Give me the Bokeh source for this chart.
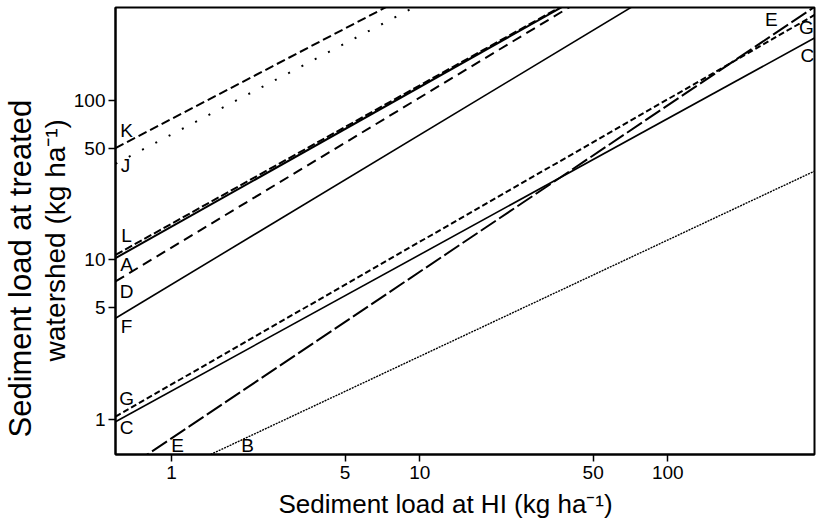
import numpy as np
from bokeh.plotting import figure
from bokeh.models import Range1d, FixedTicker, PrintfTickFormatter, Title, ColumnDataSource
from bokeh.core.properties import value
from bokeh.embed import file_html
from bokeh.resources import INLINE

# Power-law relations: treated = a * HI ** b
line_names = ["K", "J", "L", "A", "D", "F", "G", "C", "E", "B"]
coef_a = [76.7, 61.3, 16.9, 16.2, 11.97, 7.03, 1.66, 1.51, 0.762, 0.463]
coef_b = [0.811, 0.816, 0.867, 0.875, 0.940, 0.938, 0.894, 0.854, 1.044, 0.730]

# axis extent and ticks
x_limits = [0.594, 390.0]
y_limits = [0.603, 383.0]
x_tick_values = [1, 5, 10, 50, 100]
y_tick_values = [1, 5, 10, 50, 100]

# line letters drawn on the plot
label_text = ["K", "J", "L", "A", "D", "F", "G", "C", "E", "B", "E", "G", "C"]
label_x = [0.658, 0.652, 0.658, 0.658, 0.658, 0.658, 0.658, 0.658, 1.057, 2.026, 261.0, 362.0, 365.0]
label_y = [64.9, 39.1, 14.24, 9.37, 6.35, 3.83, 1.354, 0.891, 0.687, 0.687, 322.0, 287.0, 191.5]

x_title = "Sediment load at HI (kg ha\u207b\u00b9)"
y_title_lines = ["Sediment load at treated", "watershed (kg ha\u207b\u00b9)"]

styles = {
    "K": ("9 4", 2.0),
    "J": ("2 13", 2.0),
    "L": ("8 3", 2.0),
    "A": ("solid", 2.0),
    "D": ("10 6", 2.0),
    "F": ("solid", 1.6),
    "G": ("6 3", 2.0),
    "C": ("solid", 1.6),
    "E": ("18 4", 2.0),
    "B": ("2 1", 1.4),
}

FONT = "Liberation Sans"

p = figure(width=816, height=531, x_axis_type="log", y_axis_type="log",
           x_range=Range1d(*x_limits), y_range=Range1d(*y_limits),
           output_backend="svg", toolbar_location=None,
           min_border_left=115, min_border_right=2, min_border_top=7, min_border_bottom=77)
p.grid.visible = False
p.outline_line_color = "black"
p.outline_line_width = 2
p.background_fill_color = "white"
p.border_fill_color = "white"

for ax, ticks, standoff in ((p.xaxis[0], x_tick_values, 4), (p.yaxis[0], y_tick_values, 3)):
    ax.ticker = FixedTicker(ticks=ticks, minor_ticks=[])
    ax.formatter = PrintfTickFormatter(format="%d")
    ax.axis_line_width = 2
    ax.axis_line_color = "black"
    ax.major_tick_line_color = "black"
    ax.major_tick_line_width = 1.5
    ax.major_tick_out = 7
    ax.major_tick_in = 0
    ax.minor_tick_line_color = None
    ax.major_label_text_font = FONT
    ax.major_label_text_font_size = "19px"
    ax.major_label_text_color = "black"
    ax.major_label_standoff = standoff

xs = np.array(x_limits)
for name, a, b in zip(line_names, coef_a, coef_b):
    dash, width = styles[name]
    ys = a * xs ** b
    p.line(xs, ys, line_color="black", line_width=width, line_dash=dash)

src = ColumnDataSource(dict(x=label_x, y=label_y, t=label_text))
p.text(x="x", y="y", text="t", source=src, text_align="center", text_baseline="middle",
       text_font=value(FONT), text_font_size=value("19px"), text_color="black")

p.add_layout(Title(text=x_title, align="left", offset=163, standoff=11,
                   text_font=FONT, text_font_size="26px", text_font_style="normal",
                   text_color="black"), "below")
p.add_layout(Title(text=y_title_lines[1], align="left", offset=93, standoff=0,
                   text_font=FONT, text_font_size="28px", text_font_style="normal",
                   text_color="black"), "left")
p.add_layout(Title(text=y_title_lines[0], align="left", offset=17, standoff=0,
                   text_font=FONT, text_font_size="31px", text_font_style="normal",
                   text_color="black"), "left")

open("out.html", "w").write(file_html(p, INLINE))
